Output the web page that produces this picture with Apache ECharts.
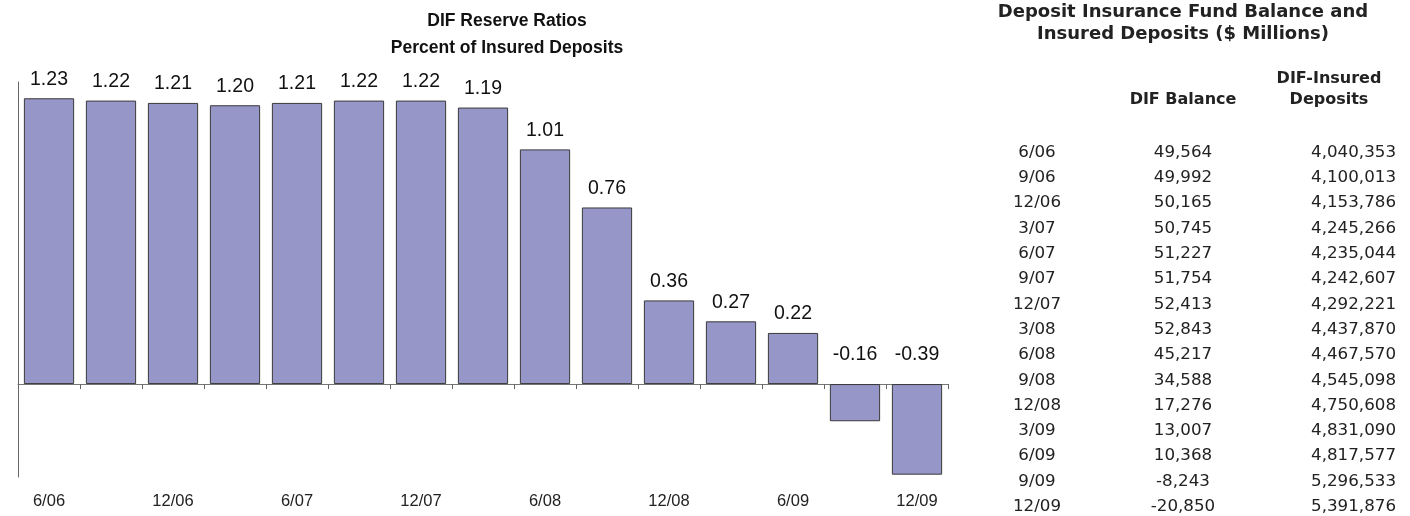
<!DOCTYPE html>
<html>
<head>
<meta charset="utf-8">
<script src="https://cdn.jsdelivr.net/npm/echarts@6/dist/echarts.min.js"></script>
<style>html,body{margin:0;padding:0;background:#fff}#c{width:1410px;height:516px}</style>
</head>
<body>
<div id="c"></div>
<script>
const categories = ['6/06','9/06','12/06','3/07','6/07','9/07','12/07','3/08','6/08','9/08','12/08','3/09','6/09','9/09','12/09'];
const reserveRatios = [1.23,1.22,1.21,1.20,1.21,1.22,1.22,1.19,1.01,0.76,0.36,0.27,0.22,-0.16,-0.39];
const difBalance = [49564,49992,50165,50745,51227,51754,52413,52843,45217,34588,17276,13007,10368,-8243,-20850];
const insuredDeposits = [4040353,4100013,4153786,4245266,4235044,4242607,4292221,4437870,4467570,4545098,4750608,4831090,4817577,5296533,5391876];

const NARROW = "'Liberation Sans Narrow','Arial Narrow','Liberation Sans',Arial,sans-serif";
const WIDE = "'DejaVu Sans',Verdana,sans-serif";

function fmt(n){
  const s = String(Math.abs(n)).replace(/\B(?=(\d{3})+(?!\d))/g, ',');
  return (n < 0 ? '-' : '') + s;
}

const chart = echarts.init(document.getElementById('c'));

const barData = reserveRatios.map(v => v < 0 ? {value: v, label: {distance: 19}} : v);

const graphics = [];
function txt(x, y, text, font, align, color){
  graphics.push({type:'text', x:x, y:y, silent:true, style:{
    text:text, font:font, fill:color || '#222', align:align, textAlign:align,
    verticalAlign:'middle', textVerticalAlign:'middle'}});
}
txt(1183, 12, 'Deposit Insurance Fund Balance and', 'bold 18px ' + WIDE, 'center');
txt(1183, 34, 'Insured Deposits ($ Millions)', 'bold 18px ' + WIDE, 'center');
txt(1329, 79, 'DIF-Insured', 'bold 16px ' + WIDE, 'center');
txt(1329, 100, 'Deposits', 'bold 16px ' + WIDE, 'center');
txt(1183, 100, 'DIF Balance', 'bold 16px ' + WIDE, 'center');
const step = (506.7 - 152.5) / (categories.length - 1);
categories.forEach((c, i) => {
  const y = 152.5 + i * step;
  txt(1037, y, c, '16.7px ' + WIDE, 'center');
  txt(1183, y, fmt(difBalance[i]), '16.7px ' + WIDE, 'center');
  txt(1396, y, fmt(insuredDeposits[i]), '16.7px ' + WIDE, 'right');
});

chart.setOption({
  animation: false,
  title: {
    text: 'DIF Reserve Ratios\nPercent of Insured Deposits',
    left: 502, top: 3, textAlign: 'center',
    textStyle: {fontFamily: NARROW, fontWeight: 'bold', fontSize: 17.5, lineHeight: 27, color: '#111'}
  },
  grid: {left: 18, right: 462, top: 82, bottom: 39, containLabel: false},
  xAxis: [{
    type: 'category', data: categories,
    axisLine: {onZero: true, lineStyle: {color: '#777', width: 1}},
    axisTick: {show: true, interval: 0, length: 5, lineStyle: {color: '#666'}},
    axisLabel: {show: false}
  }, {
    type: 'category', data: categories, position: 'bottom',
    axisLine: {show: false, onZero: false}, axisTick: {show: false},
    axisLabel: {interval: 1, margin: 16, fontFamily: NARROW, fontSize: 16.5, color: '#222'}
  }],
  yAxis: {
    type: 'value', min: -0.4, max: 1.3,
    axisLine: {show: true, lineStyle: {color: '#666'}},
    axisTick: {show: false}, axisLabel: {show: false}, splitLine: {show: false}
  },
  series: [{
    type: 'bar', data: barData, xAxisIndex: 0,
    barCategoryGap: '19%',
    itemStyle: {color: '#9696c8', borderColor: '#3a3a3a', borderWidth: 1},
    label: {show: true, position: 'top', distance: 9, fontFamily: NARROW, fontSize: 19.5, color: '#111',
      formatter: p => p.value.toFixed(2)}
  }],
  graphic: graphics
});
</script>
</body>
</html>
